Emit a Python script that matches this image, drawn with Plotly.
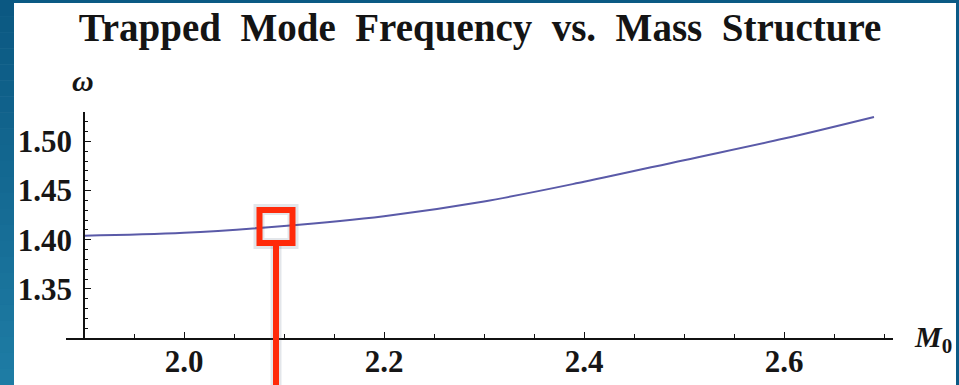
import plotly.graph_objects as go

# Trapped-mode frequency as a function of the mass parameter M0
m0 = [1.90, 2.00, 2.10, 2.20, 2.30, 2.40, 2.50, 2.60, 2.69]
omega = [1.404, 1.407, 1.414, 1.424, 1.439, 1.459, 1.481, 1.503, 1.525]

x_ticks = [2.0, 2.2, 2.4, 2.6]
y_ticks = [1.35, 1.40, 1.45, 1.50]
x_range = [1.882, 2.709]
y_range = [1.30, 1.53]
axis_origin_x = 1.90

# highlighted operating point
marked_m0 = 2.092
marked_omega = 1.4135

W, H = 959, 385
ML, MR, MT, MB = 66, 66, 112, 47
plot_w = W - ML - MR
plot_h = H - MT - MB


def px_x(px):
    return (px - ML) / plot_w


def px_y(py):
    return (H - MB - py) / plot_h


SERIF = "Liberation Serif"
RED = "#ff2a0a"
INK = "#161616"
SHADOW = "rgba(80,100,125,0.16)"

fig = go.Figure()

fig.add_trace(go.Scatter(
    x=m0, y=omega, mode="lines",
    line=dict(color="#5a5aa8", width=2, shape="spline", smoothing=1.0),
    hoverinfo="skip", showlegend=False,
))

# soft shadow under the highlight box
fig.add_trace(go.Scatter(
    x=[marked_m0], y=[marked_omega], mode="markers", cliponaxis=False,
    marker=dict(symbol="square-open", size=34, color=SHADOW, line=dict(width=11, color=SHADOW)),
    hoverinfo="skip", showlegend=False,
))
fig.add_trace(go.Scatter(
    x=[marked_m0], y=[marked_omega], mode="markers", cliponaxis=False,
    marker=dict(symbol="square-open", size=33, color=RED, line=dict(width=6, color=RED)),
    hoverinfo="skip", showlegend=False,
))

shapes = []
# frame: top and right strips, left strip with a vertical gradient
shapes.append(dict(type="rect", xref="paper", yref="paper", x0=px_x(0), x1=px_x(W),
                   y0=px_y(3), y1=px_y(0), fillcolor="#0b5a84", line=dict(width=0)))
shapes.append(dict(type="rect", xref="paper", yref="paper", x0=px_x(956), x1=px_x(W + 2),
                   y0=px_y(H + 2), y1=px_y(0), fillcolor="#0b5a86", line=dict(width=0)))
top_c = (11, 88, 130)
bot_c = (30, 124, 164)
n_bands = 24
for i in range(n_bands):
    t = i / (n_bands - 1)
    c = tuple(round(a + (b - a) * t) for a, b in zip(top_c, bot_c))
    y_top = H * i / n_bands
    y_bot = H * (i + 1) / n_bands + 0.6
    shapes.append(dict(type="rect", xref="paper", yref="paper", x0=px_x(-1), x1=px_x(14),
                       y0=px_y(y_bot), y1=px_y(y_top),
                       fillcolor="rgb(%d,%d,%d)" % c, line=dict(width=0)))

# pointer line from the highlight box down to the bottom edge
box_bottom = (marked_omega - y_range[0]) / (y_range[1] - y_range[0]) - 19.5 / plot_h
shapes.append(dict(type="line", xref="x", yref="paper", x0=marked_m0, x1=marked_m0,
                   y0=px_y(H + 30), y1=box_bottom, line=dict(color=SHADOW, width=11)))
shapes.append(dict(type="line", xref="x", yref="paper", x0=marked_m0, x1=marked_m0,
                   y0=px_y(H + 30), y1=box_bottom, line=dict(color=RED, width=6)))

SP = "\u2002"
title_text = SP.join(["Trapped", "Mode", "Frequency", "vs.", "Mass", "Structure"])

fig.update_layout(
    width=W, height=H, autosize=False,
    margin=dict(l=ML, r=MR, t=MT, b=MB, pad=0, autoexpand=False),
    paper_bgcolor="white", plot_bgcolor="white",
    shapes=shapes,
    title=dict(text=title_text,
               xref="container", yref="container", x=480 / W, y=1 - 27 / H,
               xanchor="center", yanchor="middle", automargin=False,
               font=dict(family=SERIF, size=39, color="#141414", weight="bold")),
    xaxis=dict(
        range=x_range, showgrid=False, zeroline=False, automargin=False,
        showline=True, linecolor="#111", linewidth=1.5,
        tickmode="array", tickvals=x_ticks, tickformat=".1f",
        ticks="inside", ticklen=6, tickwidth=1.2, tickcolor="#111",
        ticklabelstandoff=-5,
        tickfont=dict(family=SERIF, size=31, color=INK, weight="bold"),
        minor=dict(dtick=0.05, tick0=1.9, ticks="inside", ticklen=4, tickwidth=1, tickcolor="#111"),
    ),
    yaxis=dict(
        range=y_range, anchor="free", automargin=False,
        position=(axis_origin_x - x_range[0]) / (x_range[1] - x_range[0]),
        showgrid=False, zeroline=False,
        showline=True, linecolor="#111", linewidth=1.5,
        tickmode="array", tickvals=y_ticks, tickformat=".2f",
        ticks="inside", ticklen=6, tickwidth=1.2, tickcolor="#111",
        ticklabelstandoff=5,
        tickfont=dict(family=SERIF, size=31, color=INK, weight="bold"),
        minor=dict(dtick=0.01, tick0=1.30, ticks="inside", ticklen=3, tickwidth=1, tickcolor="#111"),
    ),
    annotations=[
        dict(text="<i>ω</i>", xref="paper", yref="paper", x=px_x(83), y=px_y(81),
             xanchor="center", yanchor="middle", showarrow=False,
             font=dict(family=SERIF, size=30, color=INK, weight="bold")),
        dict(text="<i>M</i><sub>0</sub>", xref="paper", yref="paper", x=px_x(912), y=px_y(339),
             xanchor="left", yanchor="middle", showarrow=False,
             font=dict(family=SERIF, size=30, color=INK, weight="bold")),
    ],
)

fig.write_html("out.html")
